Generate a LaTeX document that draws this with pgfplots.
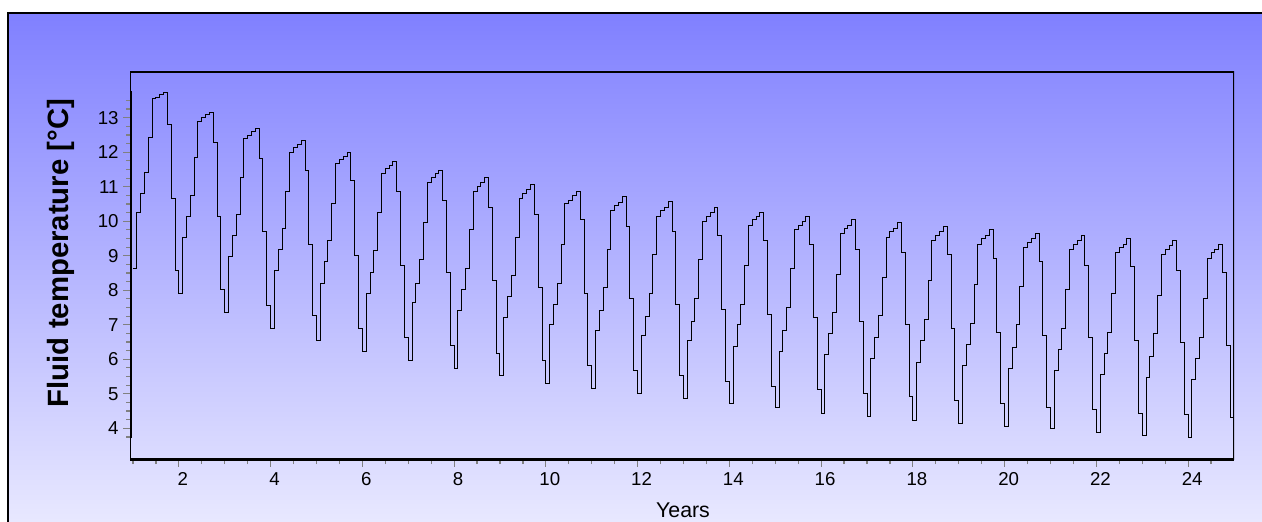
\documentclass[border=0pt]{standalone}
\usepackage{pgfplots}
\pgfplotsset{compat=1.18}
\usepackage{pgfplotstable}
\usepackage{fontspec}
\setmainfont{Liberation Sans}
\definecolor{bgtop}{RGB}{128,128,255}
\definecolor{bgbot}{RGB}{232,232,255}
\definecolor{tickgray}{RGB}{128,128,128}

\pgfplotstableread[row sep=\\]{
T\\
8.63\\10.26\\10.81\\11.42\\12.44\\13.56\\13.60\\13.66\\13.72\\12.80\\10.66\\8.57\\
7.91\\9.54\\10.15\\10.76\\11.84\\12.90\\13.00\\13.10\\13.15\\12.29\\10.15\\8.02\\
7.35\\8.98\\9.59\\10.20\\11.28\\12.39\\12.48\\12.60\\12.70\\11.83\\9.70\\7.57\\
6.89\\8.57\\9.19\\9.80\\10.86\\11.99\\12.14\\12.23\\12.35\\11.48\\9.33\\7.27\\
6.53\\8.21\\8.83\\9.44\\10.51\\11.67\\11.78\\11.88\\11.99\\11.17\\9.02\\6.89\\
6.23\\7.90\\8.52\\9.14\\10.26\\11.37\\11.53\\11.62\\11.73\\10.86\\8.72\\6.64\\
5.97\\7.65\\8.21\\8.89\\9.95\\11.12\\11.28\\11.37\\11.47\\10.60\\8.52\\6.39\\
5.72\\7.40\\8.01\\8.63\\9.75\\10.86\\11.01\\11.12\\11.28\\10.41\\8.27\\6.18\\
5.52\\7.20\\7.82\\8.43\\9.54\\10.66\\10.81\\10.92\\11.07\\10.20\\8.07\\5.97\\
5.31\\7.00\\7.60\\8.21\\9.33\\10.50\\10.61\\10.76\\10.86\\10.05\\7.91\\5.82\\
5.16\\6.84\\7.40\\8.07\\9.19\\10.30\\10.45\\10.55\\10.71\\9.85\\7.76\\5.67\\
5.00\\6.69\\7.25\\7.91\\9.03\\10.15\\10.30\\10.41\\10.56\\9.70\\7.60\\5.52\\
4.86\\6.53\\7.10\\7.76\\8.88\\10.00\\10.15\\10.25\\10.41\\9.59\\7.45\\5.36\\
4.71\\6.38\\7.00\\7.60\\8.72\\9.89\\10.05\\10.15\\10.26\\9.44\\7.30\\5.21\\
4.60\\6.23\\6.84\\7.51\\8.63\\9.75\\9.89\\10.00\\10.15\\9.33\\7.20\\5.11\\
4.44\\6.13\\6.74\\7.35\\8.47\\9.64\\9.80\\9.89\\10.05\\9.19\\7.10\\5.01\\
4.35\\6.02\\6.64\\7.26\\8.37\\9.54\\9.69\\9.80\\9.95\\9.08\\7.00\\4.91\\
4.24\\5.92\\6.54\\7.15\\8.27\\9.44\\9.59\\9.69\\9.85\\9.03\\6.89\\4.80\\
4.14\\5.82\\6.43\\7.05\\8.16\\9.33\\9.49\\9.59\\9.75\\8.93\\6.79\\4.71\\
4.04\\5.72\\6.34\\7.00\\8.12\\9.24\\9.39\\9.49\\9.64\\8.83\\6.70\\4.60\\
3.99\\5.67\\6.28\\6.89\\8.01\\9.18\\9.33\\9.44\\9.59\\8.72\\6.64\\4.55\\
3.89\\5.57\\6.18\\6.79\\7.91\\9.08\\9.24\\9.33\\9.49\\8.68\\6.54\\4.44\\
3.79\\5.47\\6.08\\6.74\\7.86\\9.03\\9.18\\9.29\\9.44\\8.57\\6.49\\4.40\\
3.74\\5.42\\6.03\\6.64\\7.76\\8.93\\9.08\\9.18\\9.33\\8.52\\6.39\\4.30\\
4.30\\
}\fluid

\begin{document}
\begin{tikzpicture}
\useasboundingbox (0,0) rectangle (946.5pt,390.75pt);
\fill[white] (0,0) rectangle (946.5pt,390.75pt);
\shade[top color=bgtop, bottom color=bgbot] (6pt,0pt) rectangle (950pt,381pt);
\draw[line width=1.5pt] (6pt,-5pt) -- (6pt,381pt) -- (950pt,381pt);
\begin{axis}[
  at={(97.5pt,45.75pt)}, anchor=south west,
  scale only axis, width=828pt, height=291pt,
  xmin=0.935, xmax=25, ymin=3.081, ymax=14.325,
  axis line style={draw=none},
  tick align=outside, xtick pos=bottom, ytick pos=left,
  xtick={2,4,...,24}, ytick={4,5,...,13},
  minor xtick={1,1.5,...,24.5}, minor ytick={3.75,4,...,13.5},
  major tick length=5pt, minor tick length=3pt,
  tick style={tickgray, line width=0.9pt},
  ticklabel style={font=\fontsize{14}{16}\selectfont},
  xticklabel style={xshift=3pt, yshift=-1pt},
  /pgf/number format/assume math mode=true,
]
\addplot[const plot mark left, black, line width=0.75pt]
  table[x expr=1+\coordindex/12, y=T] {\fluid};
\draw[line width=1.3pt] (rel axis cs:0,1) -- (rel axis cs:1,1) -- (rel axis cs:1,0);
\draw[line width=0.8pt] (rel axis cs:0,0) -- (rel axis cs:0,1);
\draw[line width=2.6pt] (axis cs:0.935,3.73) -- (axis cs:0.935,13.78);
\draw[line width=2.6pt] (rel axis cs:0,0) -- (rel axis cs:1,0);
\end{axis}
\node[rotate=90, font=\bfseries\fontsize{22}{26}\selectfont] at (45.75pt,201pt) {Fluid temperature [°C]};
\node[anchor=base, font=\fontsize{16}{19}\selectfont] at (512.25pt,2.8pt) {Years};
\end{tikzpicture}
\end{document}
